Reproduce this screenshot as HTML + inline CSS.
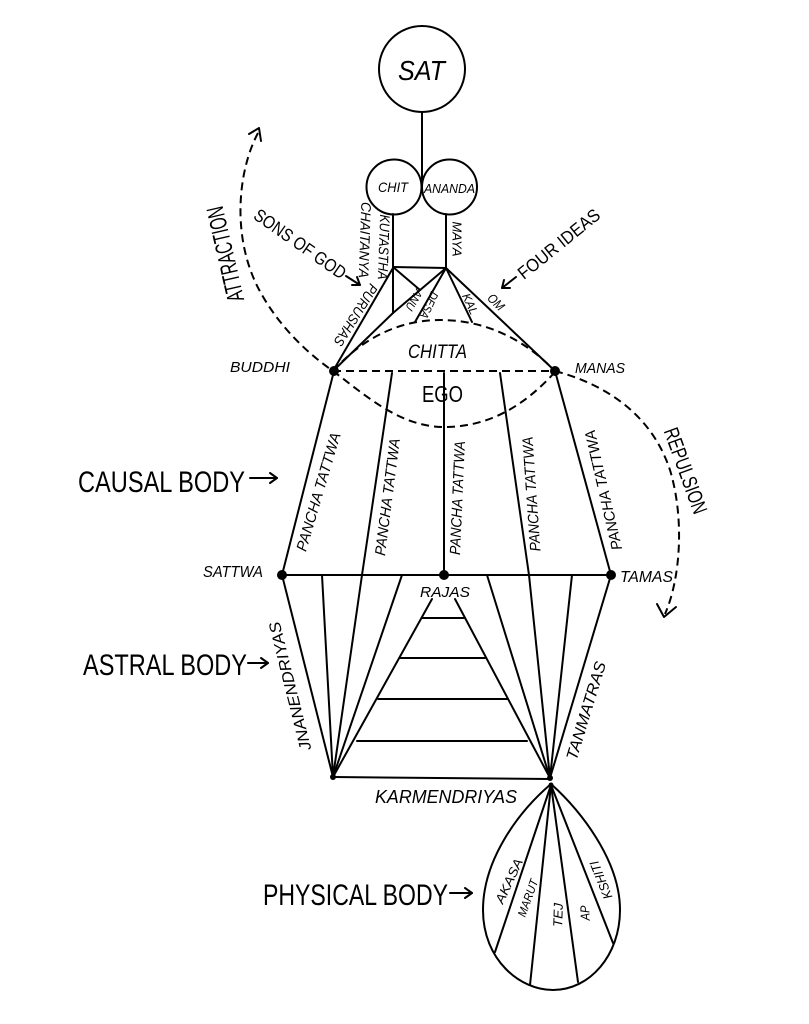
<!DOCTYPE html>
<html>
<head>
<meta charset="utf-8">
<style>
html,body{margin:0;padding:0;background:#fff;}
svg{display:block;}
text{font-family:"Liberation Sans",sans-serif;fill:#000;}
.it{font-style:italic;}
</style>
</head>
<body>
<svg width="809" height="1024" viewBox="0 0 809 1024" xmlns="http://www.w3.org/2000/svg">
<rect width="809" height="1024" fill="#fff"/>

<!-- solid lines -->
<g stroke="#000" stroke-width="2" fill="none" stroke-linecap="round" stroke-linejoin="round">
  <!-- SAT / CHIT / ANANDA -->
  <circle cx="422" cy="69" r="43"/>
  <line x1="422" y1="112" x2="422" y2="187"/>
  <circle cx="394" cy="187" r="27.5"/>
  <circle cx="449.5" cy="187" r="27.5"/>

  <!-- upper structure -->
  <line x1="393" y1="214" x2="393" y2="313"/>
  <line x1="446" y1="214" x2="446" y2="268"/>
  <line x1="393" y1="267" x2="446" y2="268"/>
  <line x1="393" y1="268" x2="333" y2="371"/>
  <line x1="393" y1="313" x2="333" y2="371"/>
  <line x1="446" y1="268" x2="393" y2="313"/>
  <line x1="393" y1="267" x2="420" y2="290"/>
  <line x1="446" y1="268" x2="415" y2="322"/>
  <line x1="446" y1="268" x2="472" y2="322"/>
  <line x1="446" y1="268" x2="555" y2="371"/>

  <!-- causal body lines -->
  <line x1="334" y1="371" x2="282" y2="575"/>
  <line x1="392" y1="373" x2="362" y2="575"/>
  <line x1="444" y1="373" x2="444" y2="575"/>
  <line x1="500" y1="373" x2="529" y2="575"/>
  <line x1="555" y1="371" x2="611" y2="575"/>
  <line x1="282" y1="575" x2="611" y2="575"/>

  <!-- astral body -->
  <line x1="333" y1="777" x2="282" y2="575"/>
  <line x1="333" y1="777" x2="322" y2="575"/>
  <line x1="333" y1="777" x2="362" y2="575"/>
  <line x1="333" y1="777" x2="402" y2="575"/>
  <line x1="333" y1="777" x2="432" y2="599"/>
  <line x1="550" y1="778" x2="611" y2="575"/>
  <line x1="550" y1="778" x2="572" y2="575"/>
  <line x1="550" y1="778" x2="529" y2="575"/>
  <line x1="550" y1="778" x2="487" y2="575"/>
  <line x1="550" y1="778" x2="455" y2="599"/>
  <line x1="422" y1="618" x2="464" y2="618"/>
  <line x1="400" y1="658" x2="485" y2="658"/>
  <line x1="378" y1="699" x2="507" y2="699"/>
  <line x1="357" y1="741" x2="527" y2="741"/>
  <line x1="333" y1="777" x2="550" y2="779"/>

  <!-- physical body -->
  <path d="M551,784 C518,812 483,860 483,910 C483,960 520,990 553,990 C590,990 620,955 620,910 C620,860 580,810 551,784 Z"/>
  <line x1="551" y1="785" x2="495" y2="952"/>
  <line x1="551" y1="785" x2="530" y2="985"/>
  <line x1="551" y1="785" x2="578" y2="982"/>
  <line x1="551" y1="785" x2="613" y2="943"/>

  <!-- label arrows -->
  <line x1="250" y1="478" x2="277" y2="478"/>
  <polyline points="270,473 277,478 270,483"/>
  <line x1="248" y1="663" x2="268" y2="663"/>
  <polyline points="261,658 268,663 261,668"/>
  <line x1="450" y1="893" x2="472" y2="893"/>
  <polyline points="465,888 472,893 465,898"/>

  <!-- sons of god arrow -->
  <line x1="346" y1="276" x2="360" y2="285"/>
  <polyline points="352,285 360,285 357,277"/>
  <!-- four ideas arrow -->
  <line x1="516" y1="277" x2="502" y2="288"/>
  <polyline points="504,280 502,288 510,288"/>

  <!-- attraction / repulsion arrowheads -->
  <polyline points="249,134 259,128 261,141"/>
  <polyline points="657,604 664,617 676,607"/>
</g>

<!-- dashed curves -->
<g stroke="#000" stroke-width="2" fill="none" stroke-dasharray="8,5">
  <path d="M258,133 C238,170 230,240 262,295 C282,330 310,355 333,371 C365,395 400,427 444,427 C490,427 525,405 555,372"/>
  <path d="M333,371 C370,330 410,320 440,320 C480,320 520,335 555,371"/>
  <path d="M555,371 C600,383 650,410 670,470 C685,520 680,580 665,614"/>
  <line x1="333" y1="371" x2="555" y2="371"/>
</g>

<!-- dots -->
<g fill="#000">
  <circle cx="334" cy="371" r="5"/>
  <circle cx="555" cy="371" r="5"/>
  <circle cx="282" cy="575" r="5"/>
  <circle cx="444" cy="575" r="5"/>
  <circle cx="611" cy="575" r="5"/>
  <circle cx="333" cy="777" r="3"/>
  <circle cx="550" cy="778" r="3"/>
  <circle cx="551" cy="785" r="2.5"/>
</g>

<!-- horizontal labels -->
<text class="it" x="398" y="80" font-size="28" textLength="47" lengthAdjust="spacingAndGlyphs">SAT</text>
<text class="it" x="378" y="192" font-size="14" textLength="30" lengthAdjust="spacingAndGlyphs">CHIT</text>
<text class="it" x="424" y="193" font-size="13" textLength="51" lengthAdjust="spacingAndGlyphs">ANANDA</text>
<text class="it" x="408" y="358" font-size="19" textLength="59" lengthAdjust="spacingAndGlyphs">CHITTA</text>
<text x="422" y="402" font-size="23" textLength="41" lengthAdjust="spacingAndGlyphs">EGO</text>
<text class="it" x="230" y="372" font-size="15" textLength="60" lengthAdjust="spacingAndGlyphs">BUDDHI</text>
<text class="it" x="575" y="373" font-size="15" textLength="50" lengthAdjust="spacingAndGlyphs">MANAS</text>
<text class="it" x="203" y="577" font-size="16" textLength="60" lengthAdjust="spacingAndGlyphs">SATTWA</text>
<text class="it" x="620" y="582" font-size="16" textLength="53" lengthAdjust="spacingAndGlyphs">TAMAS</text>
<text class="it" x="420" y="597" font-size="15" textLength="50" lengthAdjust="spacingAndGlyphs">RAJAS</text>
<text class="it" x="375" y="803" font-size="18" textLength="142" lengthAdjust="spacingAndGlyphs">KARMENDRIYAS</text>

<text x="78" y="492" font-size="30" textLength="167" lengthAdjust="spacingAndGlyphs">CAUSAL BODY</text>
<text x="83" y="675" font-size="30" textLength="164" lengthAdjust="spacingAndGlyphs">ASTRAL BODY</text>
<text x="263" y="905" font-size="30" textLength="185" lengthAdjust="spacingAndGlyphs">PHYSICAL BODY</text>

<!-- rotated labels -->
<g text-anchor="middle" dominant-baseline="central">
  <text transform="translate(226 254) rotate(-103)" font-size="24" textLength="97" lengthAdjust="spacingAndGlyphs">ATTRACTION</text>
  <text transform="translate(685 471) rotate(70)" font-size="21" textLength="90" lengthAdjust="spacingAndGlyphs">REPULSION</text>
  <text transform="translate(300 244) rotate(35)" font-size="18" textLength="108" lengthAdjust="spacingAndGlyphs">SONS OF GOD</text>
  <text transform="translate(559 244) rotate(-39)" font-size="18" textLength="100" lengthAdjust="spacingAndGlyphs">FOUR IDEAS</text>

  <text class="it" transform="translate(365 240) rotate(92)" font-size="14" textLength="76" lengthAdjust="spacingAndGlyphs">CHAITANYA</text>
  <text class="it" transform="translate(384 247) rotate(92)" font-size="14" textLength="65" lengthAdjust="spacingAndGlyphs">KUTASTHA</text>
  <text class="it" transform="translate(457 239) rotate(90)" font-size="13" textLength="35" lengthAdjust="spacingAndGlyphs">MAYA</text>
  <text class="it" transform="translate(356 315) rotate(122)" font-size="14" textLength="70" lengthAdjust="spacingAndGlyphs">PURUSHAS</text>
  <text class="it" transform="translate(414 300) rotate(120)" font-size="12" textLength="22" lengthAdjust="spacingAndGlyphs">ANU</text>
  <text class="it" transform="translate(429 305) rotate(115)" font-size="12" textLength="28" lengthAdjust="spacingAndGlyphs">DESA</text>
  <text class="it" transform="translate(470 304) rotate(65)" font-size="12" textLength="22" lengthAdjust="spacingAndGlyphs">KAL</text>
  <text class="it" transform="translate(496 302) rotate(45)" font-size="13" textLength="18" lengthAdjust="spacingAndGlyphs">OM</text>

  <text class="it" transform="translate(319 492) rotate(-73.5)" font-size="15" textLength="123" lengthAdjust="spacingAndGlyphs">PANCHA TATTWA</text>
  <text class="it" transform="translate(388 497) rotate(-82.7)" font-size="15" textLength="118" lengthAdjust="spacingAndGlyphs">PANCHA TATTWA</text>
  <text class="it" transform="translate(458 498) rotate(-87.5)" font-size="15" textLength="114" lengthAdjust="spacingAndGlyphs">PANCHA TATTWA</text>
  <text class="it" transform="translate(532 494) rotate(-94)" font-size="15" textLength="115" lengthAdjust="spacingAndGlyphs">PANCHA TATTWA</text>
  <text class="it" transform="translate(604 490) rotate(-103)" font-size="15" textLength="123" lengthAdjust="spacingAndGlyphs">PANCHA TATTWA</text>

  <text class="it" transform="translate(291 686) rotate(-104)" font-size="16" textLength="132" lengthAdjust="spacingAndGlyphs">JNANENDRIYAS</text>
  <text class="it" transform="translate(587 711) rotate(-73)" font-size="16" textLength="102" lengthAdjust="spacingAndGlyphs">TANMATRAS</text>

  <text class="it" transform="translate(509 881) rotate(-65)" font-size="13" textLength="48" lengthAdjust="spacingAndGlyphs">AKASA</text>
  <text class="it" transform="translate(528 898) rotate(-70)" font-size="12" textLength="39" lengthAdjust="spacingAndGlyphs">MARUT</text>
  <text class="it" transform="translate(558 915) rotate(-88)" font-size="13" textLength="24" lengthAdjust="spacingAndGlyphs">TEJ</text>
  <text class="it" transform="translate(585 913) rotate(-92)" font-size="13" textLength="15" lengthAdjust="spacingAndGlyphs">AP</text>
  <text class="it" transform="translate(601 880) rotate(-112)" font-size="13" textLength="40" lengthAdjust="spacingAndGlyphs">KSHITI</text>
</g>
</svg>
</body>
</html>
